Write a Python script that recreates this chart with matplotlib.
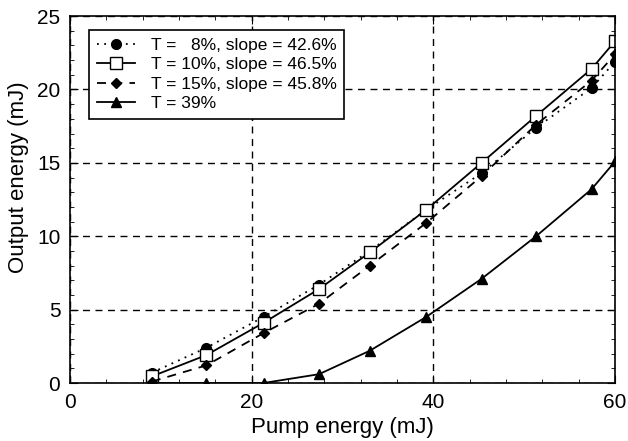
import numpy as np
import matplotlib.pyplot as plt
from matplotlib.ticker import MultipleLocator

plt.rcParams['font.family'] = ['Liberation Sans', 'DejaVu Sans']

# --- datos ---
pump = [9.0, 15.0, 21.3, 27.4, 33.0, 39.2, 45.3, 51.3, 57.4, 60.0]
out_8 = [0.7, 2.4, 4.5, 6.7, 9.0, 11.8, 14.3, 17.4, 20.1, 21.9]
out_10 = [0.45, 1.9, 4.1, 6.4, 8.9, 11.8, 15.0, 18.2, 21.4, 23.3]
out_15 = [0.1, 1.2, 3.4, 5.4, 8.0, 10.9, 14.1, 17.6, 20.6, 22.4]
out_39 = [0.0, 0.0, 0.0, 0.6, 2.2, 4.5, 7.1, 10.0, 13.2, 15.1]

labels = ['T =   8%, slope = 42.6%', 'T = 10%, slope = 46.5%',
          'T = 15%, slope = 45.8%', 'T = 39%']

fig = plt.figure(figsize=(6.28, 4.41), dpi=100, facecolor='white')
ax = fig.add_axes([0.1115, 0.1315, 0.868, 0.832])

ax.plot(pump, out_8, linestyle=(0, (1, 3)), color='black', lw=1.3,
        marker='o', ms=7, mfc='black', mec='black', label=labels[0])
ax.plot(pump, out_10, linestyle='-', color='black', lw=1.3,
        marker='s', ms=8, mfc='white', mec='black', label=labels[1])
ax.plot(pump, out_15, linestyle=(0, (5, 4)), color='black', lw=1.3,
        marker='D', ms=5, mfc='black', mec='black', label=labels[2])
ax.plot(pump, out_39, linestyle='-', color='black', lw=1.3,
        marker='^', ms=7, mfc='black', mec='black', label=labels[3])

ax.set_xlim(0, 60)
ax.set_ylim(0, 25)
ax.xaxis.set_major_locator(MultipleLocator(20))
ax.xaxis.set_minor_locator(MultipleLocator(4))
ax.yaxis.set_major_locator(MultipleLocator(5))
ax.yaxis.set_minor_locator(MultipleLocator(1))
ax.tick_params(which='both', direction='in', top=True, right=True,
               labelsize=15, pad=7)
ax.tick_params(which='major', length=6)
ax.tick_params(which='minor', length=3)

# rejilla discontinua
ax.grid(True, which='major', color='black', linestyle=(0, (5, 4)), lw=1.0)
ax.set_axisbelow(True)

for s in ax.spines.values():
    s.set_linewidth(1.2)

ax.set_xlabel('Pump energy (mJ)', fontsize=16, labelpad=4)
ax.set_ylabel('Output energy (mJ)', fontsize=16)
ax.yaxis.set_label_coords(-0.075, 0.56)

leg = ax.legend(loc='upper left', frameon=True, fancybox=False,
                fontsize=12.5, edgecolor='black', framealpha=1,
                bbox_to_anchor=(0.035, 0.962),
                borderaxespad=0, handlelength=2.2, handletextpad=0.9,
                labelspacing=0.25, borderpad=0.45)
leg.get_frame().set_linewidth(1.2)

plt.savefig('out.png', dpi=100)
